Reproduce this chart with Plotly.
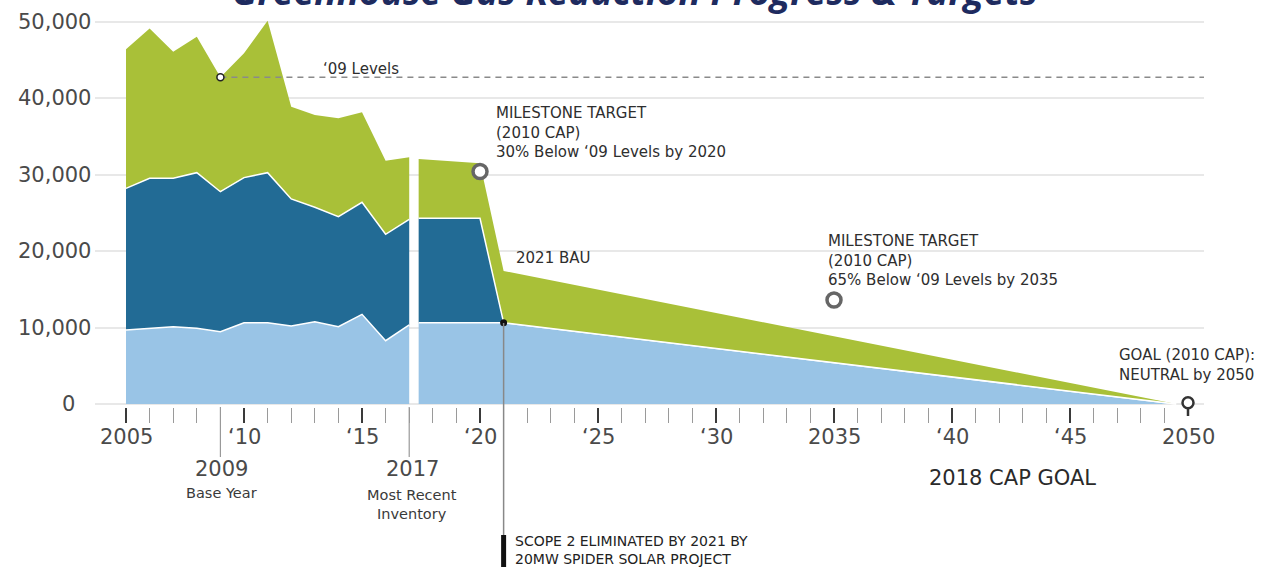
import plotly.graph_objects as go

# ---------------- data ----------------
hist_years = [2005, 2006, 2007, 2008, 2009, 2010, 2011, 2012, 2013, 2014, 2015, 2016, 2017]
hist_light_top = [9670, 9890, 10100, 9890, 9450, 10630, 10630, 10200, 10760, 10100, 11720, 8280, 10330]
hist_blue_top = [28190, 29500, 29500, 30240, 27750, 29590, 30240, 26800, 25710, 24490, 26360, 22180, 24140]
hist_total = [46370, 49100, 46050, 48000, 42700, 45840, 50100, 38870, 37780, 37340, 38130, 31800, 32250]

proj_years = [2017.4, 2020, 2021, 2049.5]
proj_light_top = [10630, 10630, 10630, 0]
proj_blue_top = [24270, 24270, 10630, 0]
proj_total = [32030, 31460, 17400, 0]

level_09_year = 2009
level_09 = 42700
milestone_years = [2020, 2035]
milestone_values = [30400, 13600]
bau_year = 2021
bau_value = 10630
goal_year = 2050
goal_value = 150

y_tick_vals = [0, 10000, 20000, 30000, 40000, 50000]
y_tick_text = ["0", "10,000", "20,000", "30,000", "40,000", "50,000"]
x_label_vals = [2005, 2010, 2015, 2020, 2025, 2030, 2035, 2040, 2045, 2050]
x_label_text = ["2005", "‘10", "‘15", "‘20", "‘25", "‘30", "2035", "‘40", "‘45", "2050"]
major_ticks = [2005, 2010, 2015, 2020, 2025, 2030, 2035, 2040, 2045]
minor_ticks = [y for y in range(2006, 2050) if y % 5 != 0]

# ---------------- style ----------------
W, H = 1262, 567
GREEN = "#A9C038"
DARK = "#226B95"
LIGHT = "#99C4E6"
FONT = "DejaVu Sans"
TITLE_FONT = "Open Sans"
TXT = "#2e2e2e"
AXT = "#4a4a4a"

def px(x):
    return x / W

def py(y):
    return 1 - y / H

fig = go.Figure()

def add_stack(xs, light, blue, total):
    fig.add_trace(go.Scatter(x=xs, y=light, mode="lines", fill="tozeroy",
                             fillcolor=LIGHT, line=dict(color="white", width=1.5),
                             hoverinfo="skip", showlegend=False))
    fig.add_trace(go.Scatter(x=xs, y=blue, mode="lines", fill="tonexty",
                             fillcolor=DARK, line=dict(color="white", width=1.5),
                             hoverinfo="skip", showlegend=False))
    fig.add_trace(go.Scatter(x=xs, y=total, mode="lines", fill="tonexty",
                             fillcolor=GREEN, line=dict(color=GREEN, width=0),
                             hoverinfo="skip", showlegend=False))

add_stack(hist_years, hist_light_top, hist_blue_top, hist_total)
add_stack(proj_years, proj_light_top, proj_blue_top, proj_total)

X_MIN, X_MAX = 2003.686, 2050.678
fig.add_trace(go.Scatter(x=[level_09_year, X_MAX], y=[level_09, level_09], mode="lines",
                         line=dict(color="#8a8a8a", width=1.5, dash="6px,5px"),
                         hoverinfo="skip", showlegend=False))
fig.add_trace(go.Scatter(x=[level_09_year], y=[level_09], mode="markers",
                         marker=dict(size=7, color="white", line=dict(color="#222", width=1.5)),
                         hoverinfo="skip", showlegend=False))
fig.add_trace(go.Scatter(x=milestone_years, y=milestone_values, mode="markers",
                         marker=dict(size=14, color="white", line=dict(color="#666", width=3.5)),
                         hoverinfo="skip", showlegend=False))
fig.add_trace(go.Scatter(x=[bau_year], y=[bau_value], mode="markers",
                         marker=dict(size=7, color="#111"),
                         hoverinfo="skip", showlegend=False))
fig.add_trace(go.Scatter(x=[goal_year], y=[goal_value], mode="markers", cliponaxis=False,
                         marker=dict(size=11, color="white", line=dict(color="#333", width=2.5)),
                         hoverinfo="skip", showlegend=False))

shapes = []
shapes.append(dict(type="line", xref="x", yref="paper", x0=goal_year, x1=goal_year,
                   y0=py(408), y1=py(416), line=dict(color="#333", width=2.5)))
for yr in (2009, 2017):
    shapes.append(dict(type="line", xref="x", yref="paper", x0=yr, x1=yr,
                       y0=py(407), y1=py(457), line=dict(color="#999", width=1.2)))
shapes.append(dict(type="line", xref="x", yref="paper", x0=bau_year, x1=bau_year,
                   y0=py(323), y1=py(536), line=dict(color="#888", width=1.5)))
shapes.append(dict(type="line", xref="x", yref="paper", x0=bau_year, x1=bau_year,
                   y0=py(535), y1=py(567), line=dict(color="#111", width=5)))

ann = []
# title (cut off at the top, as in the reference)
ann.append(dict(text="Greenhouse Gas Reduction Progress & Targets", xref="paper", yref="paper",
                x=px(634), y=py(-10), xanchor="center", yanchor="middle", showarrow=False,
                font=dict(family=TITLE_FONT, size=37, color="#1E2B5F", weight="bold",
                          style="italic")))
for v, t in zip(y_tick_vals, y_tick_text):
    if v == 0:
        ann.append(dict(text=t, xref="paper", yref="y", x=px(68), y=v, xanchor="center",
                        yanchor="middle", showarrow=False,
                        font=dict(family=FONT, size=21, color=AXT)))
    else:
        ann.append(dict(text=t, xref="paper", yref="y", x=px(93), y=v, xanchor="right",
                        yanchor="middle", showarrow=False,
                        font=dict(family=FONT, size=21, color=AXT)))
for v, t in zip(x_label_vals, x_label_text):
    ann.append(dict(text=t, xref="x", yref="paper", x=v, y=py(437), xanchor="center",
                    yanchor="middle", showarrow=False,
                    font=dict(family=FONT, size=21, color=AXT)))

def txt(text, x, y, size=15, color=TXT, anchor="left"):
    ann.append(dict(text=text, xref="paper", yref="paper", x=px(x), y=py(y), xanchor=anchor,
                    yanchor="middle", showarrow=False, align=anchor if anchor != "center" else "center",
                    font=dict(family=FONT, size=size, color=color)))

txt("‘09 Levels", 321, 69)
txt("MILESTONE TARGET<br>(2010 CAP)<br>30% Below ‘09 Levels by 2020", 494, 133)
txt("2021 BAU", 514, 258)
txt("MILESTONE TARGET<br>(2010 CAP)<br>65% Below ‘09 Levels by 2035", 826, 261)
txt("GOAL (2010 CAP):<br>NEUTRAL by 2050", 1117, 365)
txt("2009", 221, 469, size=21, color=AXT, anchor="center")
txt("Base Year", 221, 493, size=14.5, color="#3a3a3a", anchor="center")
txt("2017", 412, 469, size=21, color=AXT, anchor="center")
txt("Most Recent<br>Inventory", 412, 504, size=14.5, color="#3a3a3a", anchor="center")
txt("2018 CAP GOAL", 1013, 478, size=21, color="#2a2a2a", anchor="center")
txt("SCOPE 2 ELIMINATED BY 2021 BY<br>20MW SPIDER SOLAR PROJECT", 513, 550, size=14,
    color="#222")

Y_TOP = (404 - 0) / 0.00765
Y_BOT = (404 - 407) / 0.00765

fig.update_layout(
    width=W, height=H, margin=dict(l=0, r=0, t=0, b=0),
    paper_bgcolor="white", plot_bgcolor="white",
    showlegend=False,
    xaxis=dict(domain=[px(95), px(1204)], range=[X_MIN, X_MAX], showgrid=False,
               zeroline=False, showline=False, showticklabels=False,
               tickmode="array", tickvals=major_ticks, ticks="outside", ticklen=15,
               tickwidth=2, tickcolor="#3a3a3a",
               minor=dict(tickmode="array", tickvals=minor_ticks, ticks="outside",
                          ticklen=15, tickwidth=1.3, tickcolor="#9a9a9a", showgrid=False)),
    yaxis=dict(domain=[py(407), 1], range=[Y_BOT, Y_TOP], tickmode="array",
               tickvals=y_tick_vals, showticklabels=False, showgrid=True,
               gridcolor="#E8E8E8", gridwidth=2, zeroline=True, zerolinecolor="#E8E8E8",
               zerolinewidth=2, showline=False, ticks=""),
    shapes=shapes,
    annotations=ann,
    font=dict(family=FONT),
)

fig.write_html("out.html", config={"displayModeBar": False},
               post_script="document.body.style.margin='0';document.body.style.overflow='hidden';")
